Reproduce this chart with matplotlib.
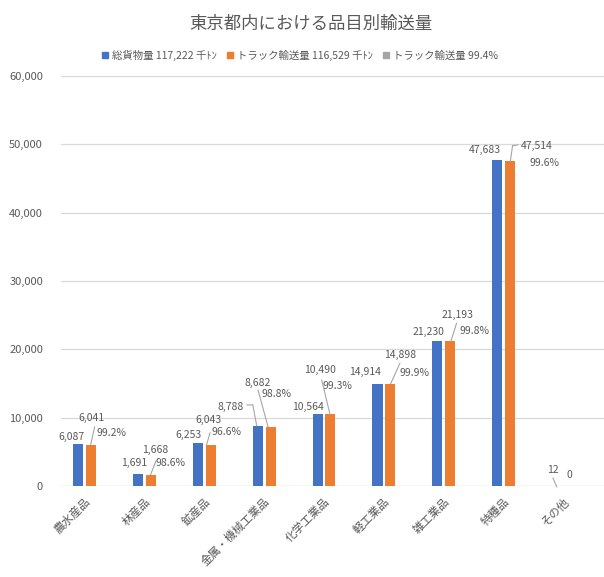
import numpy as np
import matplotlib.pyplot as plt
from matplotlib.patches import Patch
from matplotlib.text import OffsetFrom

plt.rcParams['font.family'] = ['Noto Sans CJK JP', 'DejaVu Sans']

kategorie = ["農水産品", "林産品", "鉱産品", "金属・機械工業品", "化学工業品",
             "軽工業品", "雑工業品", "特種品", "その他"]
ogolem = [6087, 1691, 6253, 8788, 10564, 14914, 21230, 47683, 12]
ciezarowki = [6041, 1668, 6043, 8682, 10490, 14898, 21193, 47514, 0]
procent = ["99.2%", "98.6%", "96.6%", "98.8%", "99.3%", "99.9%", "99.8%", "99.6%", ""]
legenda = ["総貨物量 117,222 千ﾄﾝ", "トラック輸送量 116,529 千ﾄﾝ", "トラック輸送量 99.4%"]

niebieski = "#4472C4"
pomaranczowy = "#ED7D31"
szary = "#A5A5A5"
tekst = "#595959"

# przesuniecia etykiet w pikselach wzgledem szczytu slupka
off_nieb = [(-6, 7), (-4, 11), (-9, 8), (-27, 19), (-9.5, 7), (-12.5, 12), (-9, 9), (-12.5, 10), (-4.5, 16)]
off_pom = [(1, 27), (4.5, 25), (-2, 25), (-13, 44), (-10.5, 44), (10, 29), (7.5, 26), (26.5, 15.5), (-1, 11)]
off_proc = [(20.5, 11.5), (19.5, 11.5), (16, 12.5), (6, 32.5), (6.5, 28.5), (24.5, 11), (24.5, 10), (34.5, -1.5), (0, 0)]

fig = plt.figure(figsize=(6.04, 5.77), dpi=100)
ax = fig.add_axes([61 / 604, 1 - 486 / 577, 543 / 604, 410 / 577])

x = np.arange(len(kategorie))
w = 0.167
d = 0.108
ax.bar(x - d, ogolem, width=w, color=niebieski, zorder=3)
ax.bar(x + d, ciezarowki, width=w, color=pomaranczowy, zorder=3)

ax.set_xlim(-0.387, 8.67)
ax.set_ylim(0, 60000)
ax.set_yticks(np.arange(0, 60001, 10000))
ax.set_yticklabels([f"{v:,}" for v in range(0, 60001, 10000)], fontsize=8, color=tekst)
ax.yaxis.grid(True, color="#D9D9D9", linewidth=0.9, zorder=0)
ax.tick_params(axis="y", length=0, pad=13)
ax.tick_params(axis="x", length=0, pad=7)
for s in ax.spines.values():
    s.set_visible(False)
ax.axhline(0, color="#D9D9D9", linewidth=0.9, zorder=1)

ax.set_xticks(x)
ax.set_xticklabels(kategorie, rotation=45, ha="right", va="top",
                   rotation_mode="anchor", fontsize=8.2, color=tekst)

fs = 7.5
for i in range(len(kategorie)):
    ax.annotate(f"{ogolem[i]:,}", (x[i] - d, ogolem[i]), xytext=off_nieb[i],
                textcoords="offset pixels", ha="center", va="center", fontsize=fs, color=tekst)
    ax.annotate(f"{ciezarowki[i]:,}", (x[i] + d, ciezarowki[i]), xytext=off_pom[i],
                textcoords="offset pixels", ha="center", va="center", fontsize=fs, color=tekst)
    if procent[i]:
        ax.annotate(procent[i], (x[i] + d, ciezarowki[i]), xytext=off_proc[i],
                    textcoords="offset pixels", ha="center", va="center", fontsize=fs, color=tekst)

# linie odniesienia: punkty w pikselach wzgledem szczytu slupka
linie = [
    (0, +1, [(0, 0), (4, 18)]),
    (1, +1, [(0, 0), (5.5, 14)]),
    (2, +1, [(-4, 0), (-0.5, 12)]),
    (3, -1, [(-0.8, 0), (-4.8, 21), (-10.8, 21)]),
    (3, +1, [(-2.5, 0), (-12.5, 36.7)]),
    (4, +1, [(-0.5, 0), (-8.8, 34.4)]),
    (5, +1, [(0, 0), (9.5, 21)]),
    (6, +1, [(0.5, 0), (6.2, 18)]),
    (7, +1, [(0, 0), (2.2, 15.5), (7.5, 16.5)]),
    (8, -1, [(-0.5, -1), (-4.5, 8)]),
]
fig.canvas.draw()
for i, strona, pts in linie:
    xv = x[i] + strona * d
    yv = ciezarowki[i] if strona > 0 else ogolem[i]
    ref = OffsetFrom(ax.transData, (xv, yv), unit="pixels")
    for p0, p1 in zip(pts[:-1], pts[1:]):
        ax.annotate("", xy=p0, xycoords=ref, xytext=p1, textcoords=ref,
                    arrowprops=dict(arrowstyle="-", color="#A6A6A6", lw=0.8,
                                    shrinkA=0, shrinkB=0),
                    annotation_clip=False)

fig.text(311 / 604, 1 - 24 / 577, "東京都内における品目別輸送量", ha="center", va="center",
         fontsize=12.5, color=tekst)

uchwyty = [Patch(color=niebieski), Patch(color=pomaranczowy), Patch(color=szary)]
fig.legend(uchwyty, legenda, loc="center", bbox_to_anchor=(300 / 604, 1 - 55 / 577),
           ncol=3, frameon=False, fontsize=7.5, handlelength=0.6, handleheight=0.6,
           handletextpad=0.4, columnspacing=0.9, labelcolor=tekst)

fig.savefig("out.png", dpi=100)
